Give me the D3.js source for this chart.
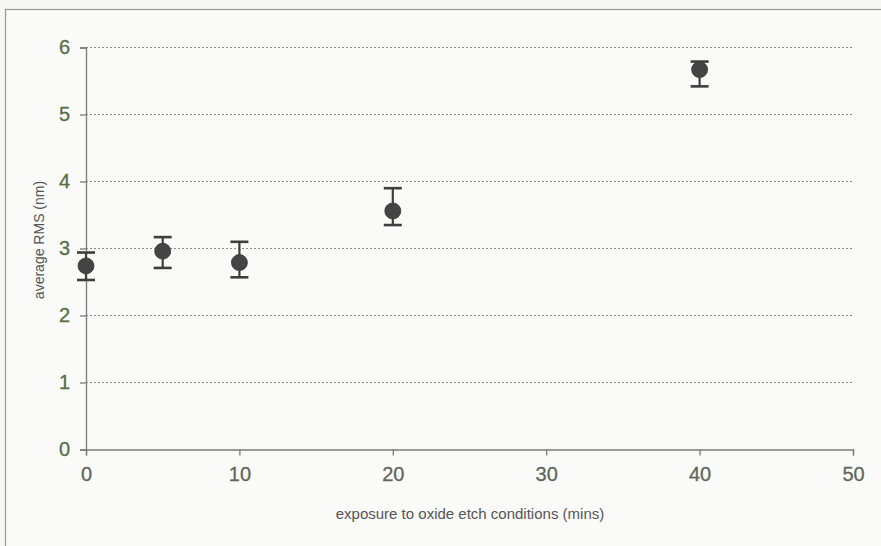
<!DOCTYPE html>
<html>
<head>
<meta charset="utf-8">
<script src="https://cdn.jsdelivr.net/npm/d3@7"></script>
<style>
  html, body { margin: 0; padding: 0; background: #f7f7f5; }
  svg { display: block; }
</style>
</head>
<body>
<svg id="chart" width="881" height="546"></svg>
<script>
// Etch exposure time (mins) and measured roughness
const exposure = [0, 5, 10, 20, 40];
const rmsMean  = [2.74, 2.96, 2.79, 3.56, 5.67];
const rmsLow   = [2.53, 2.71, 2.57, 3.35, 5.42];
const rmsHigh  = [2.94, 3.17, 3.10, 3.90, 5.79];
const xTicks = [0, 10, 20, 30, 40, 50];
const yTicks = [0, 1, 2, 3, 4, 5, 6];

const svg = d3.select("#chart");
const W = 881, H = 546;
const plotLeft = 86, plotRight = 853, plotTop = 47.5, plotBottom = 449.5;

svg.append("rect").attr("width", W).attr("height", H).attr("fill", "#f7f7f5");
// outer frame
svg.append("rect")
  .attr("x", 5.5).attr("y", 9.5).attr("width", W + 20).attr("height", H + 20)
  .attr("fill", "#fafaf8").attr("stroke", "#9a9a9a").attr("stroke-width", 1.2);

const x = d3.scaleLinear().domain([0, 50]).range([plotLeft, plotRight]);
const y = d3.scaleLinear().domain([0, 6]).range([plotBottom, plotTop]);

const labelColor = "#587048";
const font = "'Liberation Sans', Arial, sans-serif";

// dotted horizontal gridlines
svg.append("g")
  .selectAll("line")
  .data(yTicks.filter(d => d > 0))
  .join("line")
  .attr("x1", x(0)).attr("x2", x(50))
  .attr("y1", d => y(d)).attr("y2", d => y(d))
  .attr("stroke", "#8a8a8a").attr("stroke-width", 1)
  .attr("stroke-dasharray", "2,2");

// y axis
const yAxis = svg.append("g")
  .attr("transform", `translate(${x(0)},0)`)
  .call(d3.axisLeft(y).tickValues(yTicks).tickSize(6).tickPadding(10).tickFormat(d3.format("d")));
yAxis.select(".domain").attr("stroke", "#7a7a7a").attr("stroke-width", 1.3);
yAxis.selectAll(".tick line").attr("stroke", "#7a7a7a").attr("stroke-width", 1.3);
yAxis.selectAll(".tick text")
  .attr("fill", labelColor).attr("font-size", 20).attr("font-family", font)
  .attr("stroke", labelColor).attr("stroke-width", 0.3);

// x axis
const xAxis = svg.append("g")
  .attr("transform", `translate(0,${y(0)})`)
  .call(d3.axisBottom(x).tickValues(xTicks).tickSize(6).tickPadding(11).tickFormat(d3.format("d")));
xAxis.select(".domain").attr("stroke", "#7a7a7a").attr("stroke-width", 1.3);
xAxis.selectAll(".tick line").attr("stroke", "#7a7a7a").attr("stroke-width", 1.3);
xAxis.selectAll(".tick text")
  .attr("fill", "#5f6858").attr("font-size", 20).attr("font-family", font)
  .attr("stroke", "#5f6858").attr("stroke-width", 0.3);

// axis titles
svg.append("text")
  .attr("transform", `translate(44,240) rotate(-90)`)
  .attr("text-anchor", "middle")
  .attr("font-size", 14).attr("font-family", font).attr("fill", "#555")
  .text("average RMS (nm)");

svg.append("text")
  .attr("x", 470).attr("y", 519)
  .attr("text-anchor", "middle")
  .attr("font-size", 15).attr("font-family", font).attr("fill", "#555")
  .text("exposure to oxide etch conditions (mins)");

// error bars and markers
const pts = exposure.map((t, i) => ({ t, m: rmsMean[i], lo: rmsLow[i], hi: rmsHigh[i] }));
const g = svg.append("g");
const ink = "#3e3e3e";
const cap = 9;

g.selectAll("line.err")
  .data(pts).join("line").attr("class", "err")
  .attr("x1", d => x(d.t)).attr("x2", d => x(d.t))
  .attr("y1", d => y(d.lo)).attr("y2", d => y(d.hi))
  .attr("stroke", ink).attr("stroke-width", 2.2);

g.selectAll("line.capHi")
  .data(pts).join("line").attr("class", "capHi")
  .attr("x1", d => x(d.t) - cap).attr("x2", d => x(d.t) + cap)
  .attr("y1", d => y(d.hi)).attr("y2", d => y(d.hi))
  .attr("stroke", ink).attr("stroke-width", 2.6);

g.selectAll("line.capLo")
  .data(pts).join("line").attr("class", "capLo")
  .attr("x1", d => x(d.t) - cap).attr("x2", d => x(d.t) + cap)
  .attr("y1", d => y(d.lo)).attr("y2", d => y(d.lo))
  .attr("stroke", ink).attr("stroke-width", 2.6);

g.selectAll("circle")
  .data(pts).join("circle")
  .attr("cx", d => x(d.t)).attr("cy", d => y(d.m))
  .attr("r", 8)
  .attr("fill", "#444").attr("stroke", "#383838").attr("stroke-width", 0.8);
</script>
</body>
</html>
